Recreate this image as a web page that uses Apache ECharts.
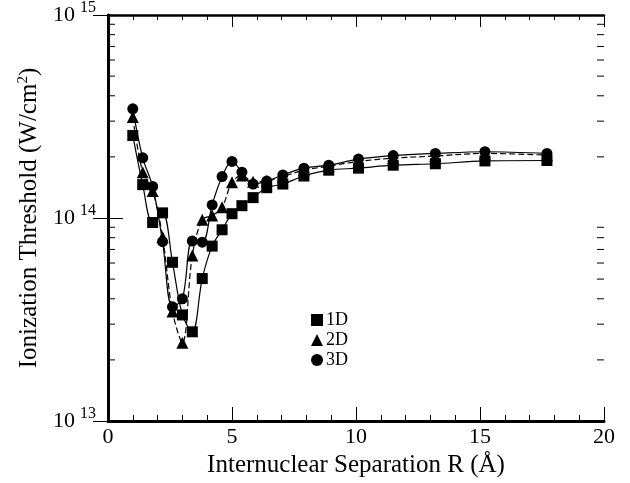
<!DOCTYPE html>
<html>
<head>
<meta charset="utf-8">
<script src="https://cdn.jsdelivr.net/npm/echarts@6/dist/echarts.min.js"></script>
<style>
  html, body { margin: 0; padding: 0; background: #fff; }
  #chart { width: 630px; height: 483px; }
</style>
</head>
<body>
<div id="chart"></div>
<script>
// internuclear separation R (Å)
const rValues = [1.0, 1.4, 1.8, 2.2, 2.6, 3.0, 3.4, 3.8, 4.2, 4.6, 5.0, 5.4, 5.85, 6.4, 7.05, 7.9, 8.9, 10.1, 11.5, 13.2, 15.2, 17.7];
// ionization threshold (W/cm^2)
const threshold1D = [2.55e14, 1.46e14, 9.5e13, 1.06e14, 6.05e13, 3.33e13, 2.75e13, 5.03e13, 7.27e13, 8.75e13, 1.05e14, 1.15e14, 1.26e14, 1.41e14, 1.47e14, 1.61e14, 1.72e14, 1.76e14, 1.82e14, 1.85e14, 1.91e14, 1.92e14];
const threshold2D = [3.14e14, 1.68e14, 1.36e14, 8.07e13, 3.46e13, 2.43e13, 6.53e13, 9.8e13, 1.03e14, 1.13e14, 1.5e14, 1.62e14, 1.51e14, 1.52e14, 1.6e14, 1.72e14, 1.8e14, 1.9e14, 1.97e14, 2.02e14, 2.08e14, 2.04e14];
const threshold3D = [3.45e14, 1.98e14, 1.43e14, 7.64e13, 3.65e13, 4.0e13, 7.7e13, 7.6e13, 1.16e14, 1.6e14, 1.9e14, 1.68e14, 1.47e14, 1.52e14, 1.63e14, 1.76e14, 1.82e14, 1.95e14, 2.03e14, 2.08e14, 2.12e14, 2.08e14];
// log axis minor ticks (2..9 per decade)
const yMinorTicks = [2e13, 3e13, 4e13, 5e13, 6e13, 7e13, 8e13, 9e13, 2e14, 3e14, 4e14, 5e14, 6e14, 7e14, 8e14, 9e14];

const serif = '"Liberation Serif", "DejaVu Serif", serif';

const myChart = echarts.init(document.getElementById('chart'), null, {renderer: 'canvas'});

const pairs = arr => rValues.map((r, i) => [r, arr[i]]);

const lineSeries = (name, data, symbol, size, type) => ({
  name,
  type: 'line',
  data: pairs(data),
  symbol,
  symbolSize: size,
  smooth: 0.35,
  itemStyle: {color: '#000'},
  lineStyle: {color: '#000', width: 1.2, type},
  z: 3
});

const option = {
  animation: false,
  backgroundColor: '#fff',
  grid: {left: 108, right: 26, top: 6, bottom: 61},
  legend: {
    orient: 'vertical',
    left: 306,
    top: 306,
    itemGap: 2,
    itemWidth: 12,
    itemHeight: 12,
    textStyle: {fontFamily: serif, fontSize: 18, color: '#000', padding: [0, 0, 0, -2]},
    data: [
      {name: '1D', icon: 'rect'},
      {name: '2D', icon: 'triangle'},
      {name: '3D', icon: 'circle'}
    ]
  },
  xAxis: [
    {
      type: 'value',
      min: 0,
      max: 20,
      interval: 5,
      name: 'Internuclear Separation R (Å)',
      nameLocation: 'middle',
      nameGap: 32,
      nameTextStyle: {fontFamily: serif, fontSize: 25, color: '#000'},
      axisLine: {lineStyle: {color: '#000', width: 3}},
      axisTick: {inside: true, length: 14, lineStyle: {color: '#000', width: 1}},
      minorTick: {show: true, splitNumber: 5, length: 6, lineStyle: {color: '#000', width: 1}},
      axisLabel: {fontFamily: serif, fontSize: 22, color: '#000', margin: 5},
      splitLine: {show: false}
    },
    {
      type: 'value',
      position: 'top',
      min: 0,
      max: 20,
      interval: 5,
      axisLine: {lineStyle: {color: '#000', width: 2.5}},
      axisTick: {inside: true, length: 12, lineStyle: {color: '#000', width: 1}},
      minorTick: {show: true, splitNumber: 5, length: 5, lineStyle: {color: '#000', width: 1}},
      axisLabel: {show: false},
      splitLine: {show: false}
    }
  ],
  yAxis: [
    {
      type: 'log',
      logBase: 10,
      min: 1e13,
      max: 1e15,
      splitNumber: 2,
      name: '{t|Ionization Threshold (W/cm}{s|2}{t|)}',
      nameLocation: 'middle',
      nameGap: 64,
      nameRotate: 90,
      nameTextStyle: {
        rich: {
          t: {fontFamily: serif, fontSize: 25, color: '#000'},
          s: {fontFamily: serif, fontSize: 15, color: '#000', padding: [0, 0, 13, 0]}
        }
      },
      axisLine: {lineStyle: {color: '#000', width: 3}},
      axisTick: {inside: true, length: 15, lineStyle: {color: '#000', width: 1}},
      axisLabel: {
        margin: 12,
        formatter: v => '{b|10}{s|' + Math.round(Math.log10(v)) + '}',
        rich: {
          b: {fontFamily: serif, fontSize: 22, color: '#000'},
          s: {fontFamily: serif, fontSize: 16, color: '#000', padding: [0, 0, 14, 5]}
        }
      },
      splitLine: {show: false}
    },
    {
      type: 'log',
      logBase: 10,
      min: 1e13,
      max: 1e15,
      splitNumber: 2,
      position: 'right',
      axisLine: {lineStyle: {color: '#000', width: 2.5}},
      axisTick: {inside: true, length: 15, lineStyle: {color: '#000', width: 1}},
      axisLabel: {show: false},
      splitLine: {show: false}
    }
  ],
  series: [
    lineSeries('1D', threshold1D, 'rect', 11, 'solid'),
    lineSeries('2D', threshold2D, 'triangle', 12, [6, 3]),
    lineSeries('3D', threshold3D, 'circle', 11, 'solid'),
    {
      // minor ticks of the log axes on both sides
      type: 'custom',
      silent: true,
      clip: false,
      data: yMinorTicks.map(v => [0, v]),
      renderItem: (params, api) => {
        const v = api.value(1);
        const left = api.coord([0, v]);
        const right = api.coord([20, v]);
        const style = {stroke: '#000', lineWidth: 1};
        return {
          type: 'group',
          children: [
            {type: 'line', shape: {x1: left[0], y1: left[1], x2: left[0] + 7, y2: left[1]}, style},
            {type: 'line', shape: {x1: right[0] - 7, y1: right[1], x2: right[0], y2: right[1]}, style}
          ]
        };
      },
      z: 1
    }
  ]
};

myChart.setOption(option);
window.addEventListener('resize', () => {
  myChart.resize();
});
</script>
</body>
</html>
